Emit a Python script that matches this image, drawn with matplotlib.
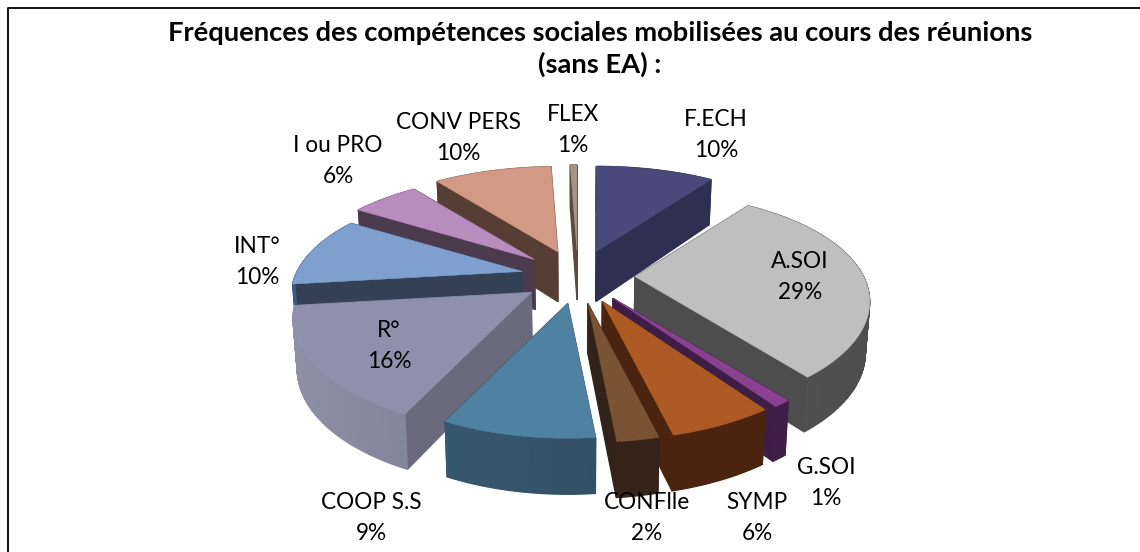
import numpy as np
import matplotlib
matplotlib.use('Agg')
import matplotlib.pyplot as plt
from matplotlib.patches import Polygon

labels = ['F.ECH', 'A.SOI', 'G.SOI', 'SYMP', 'CONFlle', 'COOP S.S', 'R°', 'INT°', 'I ou PRO', 'CONV PERS', 'FLEX']
values = [10.45, 28.55, 1.0, 6.0, 2.4, 9.0, 15.8, 10.2, 5.6, 10.4, 0.6]

top_colors = ['#4a4a7a', '#bfbfbf', '#8a4190', '#ad5a24', '#7a5234', '#4f81a0', '#9090ac', '#7f9fcf', '#b88cbc', '#d29a84', '#a99288']
wall_colors = ['#2f2f52', '#4d4d4d', '#3e1e47', '#4a240e', '#33221a', '#2f4a5e', '#6a6a7c', '#344054', '#4c3a4e', '#573e35', '#5a4a40']
side_light = ['#34345a', '#5e5e5e', '#43204c', '#4a240e', '#3a2716', '#3b617a', '#9090a8', '#3d5a85', '#7a5a80', '#8a5f50', '#6a564c']
side_dark = ['#2f2f52', '#4d4d4d', '#3e1e47', '#4a240e', '#33221a', '#2b4255', '#666678', '#344054', '#4c3a4e', '#573e35', '#5a4a40']

# slight radius differences per wedge, the original perspective is not a clean ellipse
radius = [1, 0.985, 1, 1, 1, 0.97, 1, 0.97, 1, 1, 1]

# label centres in pixels, same order as labels
label_x = [716, 800, 826, 757, 647, 371, 389, 257, 338, 458, 573]
label_y = [135, 277, 483, 518, 518, 518, 346, 262, 161, 138, 130]

cx, cy = 578, 277
rx, ry = 232, 112
ex, ey = 57, 27
persp = 0.24


def project(tip, ang, rho):
    z = np.cos(ang)
    p = 1 - persp * z
    return tip[0] + rho * rx * np.sin(ang) * p, tip[1] - rho * ry * z * p


def drop(x, y, z):
    return cx + (x - cx) * 0.985, y + 50 - 6 * z


def mix(c1, c2, t):
    a = np.array(matplotlib.colors.to_rgb(c1))
    b = np.array(matplotlib.colors.to_rgb(c2))
    return a + (b - a) * t


fig = plt.figure(figsize=(11.4, 5.52), dpi=100)
ax = fig.add_axes([0, 0, 1, 1])
ax.set_xlim(0, 1140)
ax.set_ylim(552, 0)
ax.axis('off')

# frame of the pasted chart, only left and top are in the crop
ax.plot([7.5, 7.5, 1140], [552, 8, 8], color='black', lw=1.3, zorder=0)

total = sum(values)
edges = np.cumsum([0] + values) / total * 2 * np.pi
mids = (edges[:-1] + edges[1:]) / 2

# back wedges first
order = np.argsort(-np.cos(mids))
z_base = 1
for i in order:
    a0, a1 = edges[i], edges[i + 1]
    tip = (cx + ex * np.sin(mids[i]), cy - ey * np.cos(mids[i]))
    arc = np.linspace(a0, a1, max(4, int(values[i] * 5)))
    ox, oy = project(tip, arc, radius[i])
    oz = np.cos(arc)
    bx, by = drop(ox, oy, oz)
    tbx, tby = drop(tip[0], tip[1], 0)

    faces = []
    for k, a in zip([0, -1], [a0, a1]):
        faces.append((np.cos(a) / 2, [(tip[0], tip[1]), (ox[k], oy[k]), (bx[k], by[k]), (tbx, tby)], wall_colors[i]))
    for k in range(len(arc) - 1):
        t = (np.sin((arc[k] + arc[k + 1]) / 2) + 1) / 2
        col = mix(side_dark[i], side_light[i], 1 - t)
        faces.append(((oz[k] + oz[k + 1]) / 2, [(ox[k], oy[k]), (ox[k + 1], oy[k + 1]), (bx[k + 1], by[k + 1]), (bx[k], by[k])], col))
    faces.sort(key=lambda f: -f[0])
    for _, pts, col in faces:
        ax.add_patch(Polygon(pts, closed=True, facecolor=col, edgecolor=col, lw=0.9, zorder=z_base))
        z_base += 1
    ax.add_patch(Polygon([tip] + list(zip(ox, oy)), closed=True, facecolor=top_colors[i], edgecolor=top_colors[i], lw=0.4, zorder=z_base))
    z_base += 1

for name, v, x, y in zip(labels, values, label_x, label_y):
    ax.text(x, y, f'{name}\n{round(v)}%', ha='center', va='center', fontsize=16.3, family='Lato',
            color='black', linespacing=1.62, zorder=z_base)

ax.text(600, 49, 'Fréquences des compétences sociales mobilisées au cours des réunions\n(sans EA) :',
        ha='center', va='center', fontsize=19.7, family='Lato', fontweight='bold', linespacing=1.32, zorder=z_base)

fig.savefig('out.png', dpi=100)
